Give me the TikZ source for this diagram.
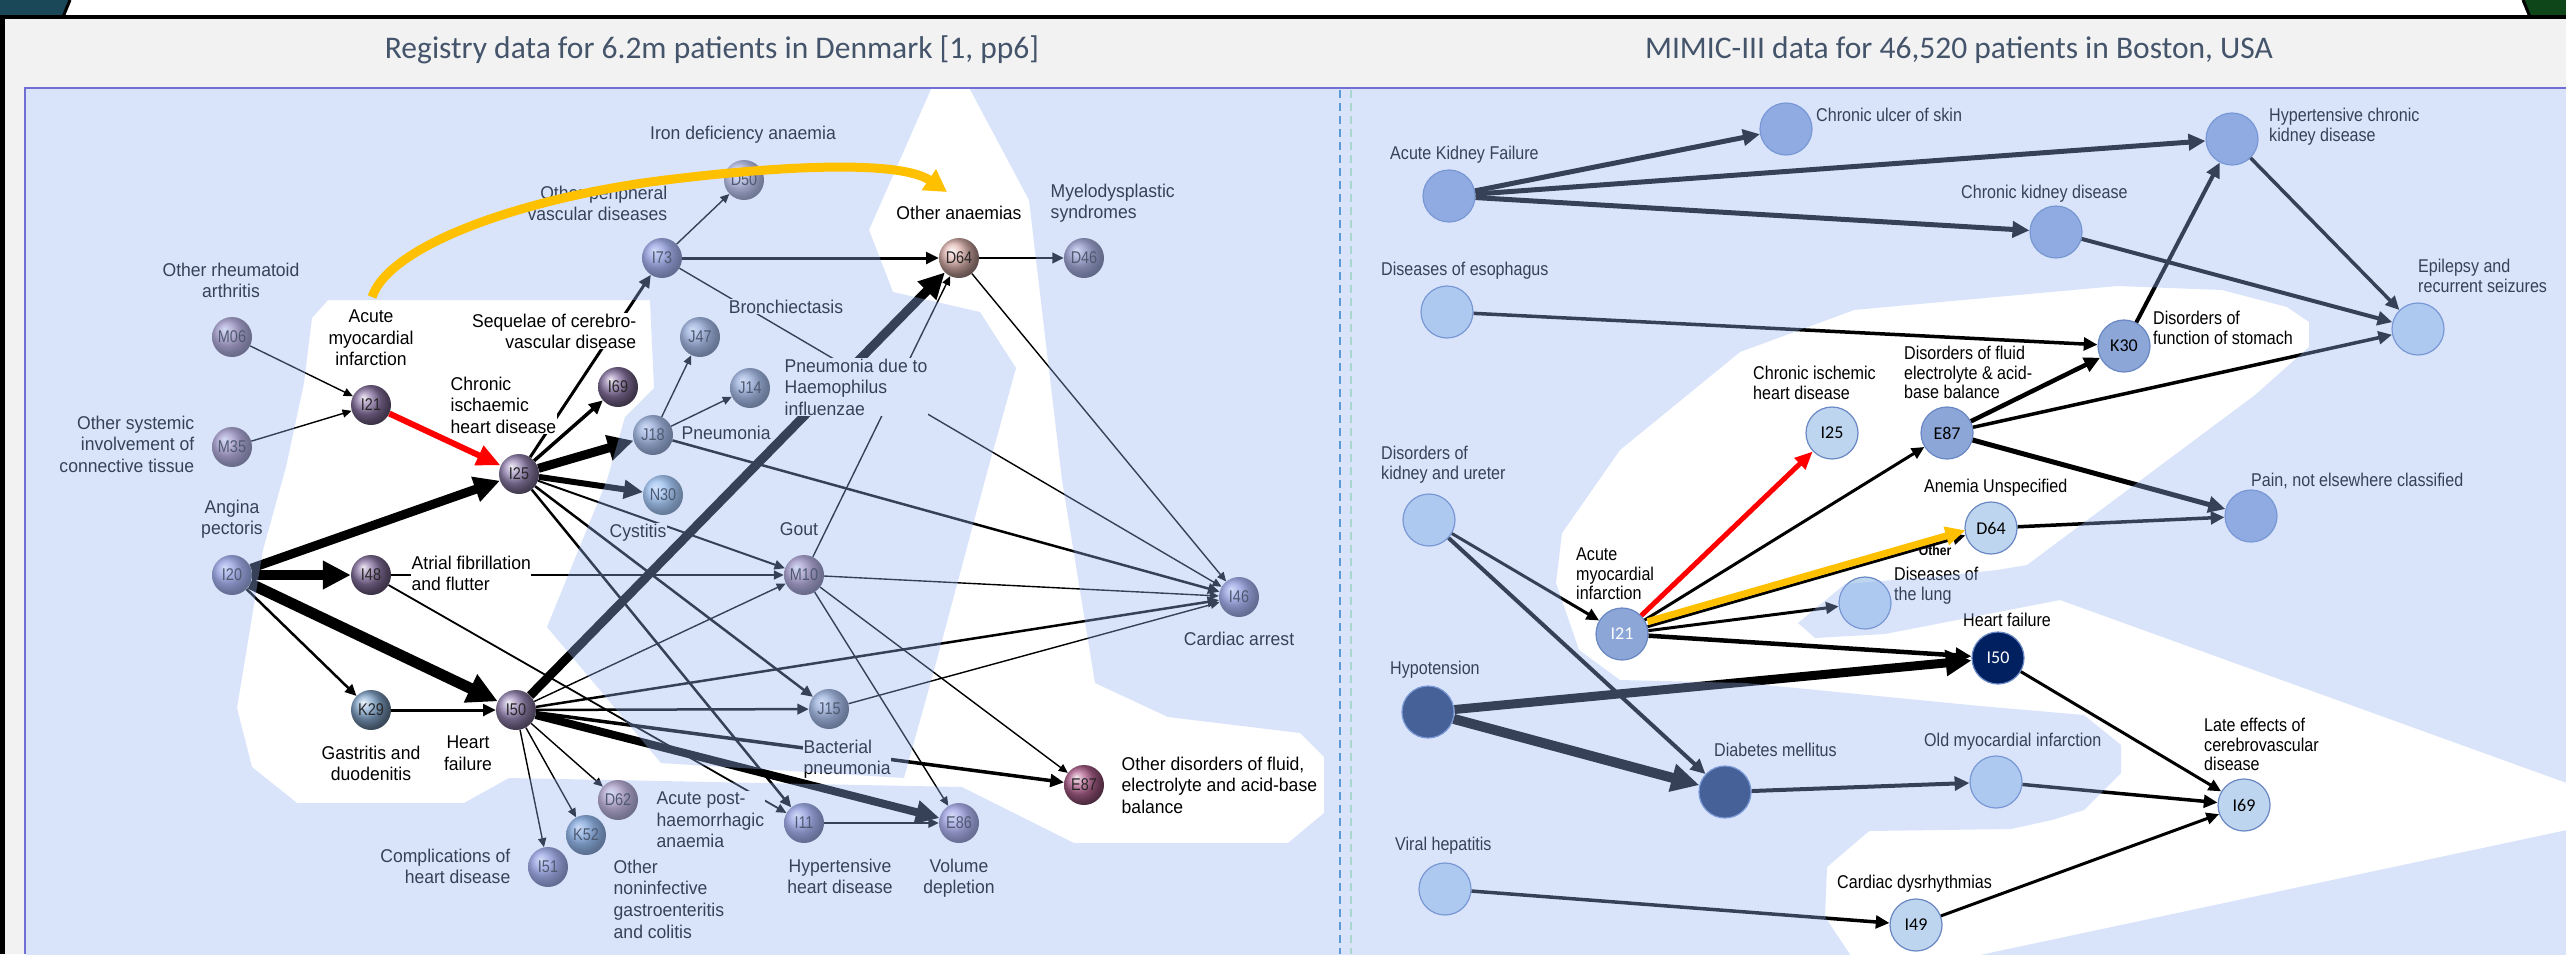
\documentclass[tikz,border=0pt]{standalone}
\usepackage{fontspec}
\setmainfont{Liberation Sans}
\newfontfamily\lpfont[FakeStretch=0.95]{Liberation Sans}
\newfontfamily\rpfont[FakeStretch=0.87]{Liberation Sans}
\newfontfamily\ballfont[FakeStretch=0.85]{Liberation Sans}
\newfontfamily\carfont{Carlito}
\usetikzlibrary{arrows.meta}
\definecolor{ovl}{RGB}{150,182,245}
\definecolor{hdr}{RGB}{242,242,242}
\definecolor{frameblue}{RGB}{112,112,212}
\definecolor{titlec}{RGB}{68,84,106}
\definecolor{tabteal}{RGB}{26,72,88}
\definecolor{tabgreen}{RGB}{14,70,26}
\definecolor{ygold}{RGB}{255,192,0}
\definecolor{nlight}{RGB}{189,213,238}
\definecolor{nmed}{RGB}{140,166,216}
\definecolor{ndark}{RGB}{25,50,100}
\definecolor{nnavy}{RGB}{0,32,96}
\definecolor{nedge}{RGB}{105,135,195}
\definecolor{bpurd}{RGB}{140,118,165}
\definecolor{bpur}{RGB}{155,138,185}
\definecolor{bpurl}{RGB}{165,160,215}
\definecolor{bmauve}{RGB}{188,150,180}
\definecolor{bgrey}{RGB}{168,178,202}
\definecolor{bblue}{RGB}{135,170,208}
\definecolor{blblue}{RGB}{175,210,238}
\definecolor{bpink}{RGB}{228,185,180}
\definecolor{bpinkm}{RGB}{210,165,185}
\definecolor{blil}{RGB}{212,198,218}
\definecolor{bdk}{RGB}{160,145,175}
\definecolor{bmag}{RGB}{180,100,145}
\definecolor{bviol}{RGB}{185,165,220}
\definecolor{dashblue}{RGB}{91,155,213}
\definecolor{dashgreen}{RGB}{170,215,205}
\tikzset{
  lab/.style={font=\lpfont\fontsize{18.5}{21.7}\selectfont, inner sep=0.5pt, fill=white, text=black},
  rlab/.style={font=\rpfont\fontsize{18.5}{19.5}\selectfont, inner sep=0pt, text=black, align=left, anchor=north west},
  ball/.style={circle, minimum size=40pt, inner sep=0pt, ball color=#1, font=\ballfont\fontsize{17}{17}\selectfont, text=black!85},
  rnode/.style={circle, minimum size=52pt, inner sep=0pt, fill=#1, draw=nedge, line width=1.2pt, font=\carfont\fontsize{18}{18}\selectfont},
  ed/.style={line width=#1, -{Triangle[length=6pt 2.2, width=5pt 2.2]}},
  ttl/.style={font=\carfont\fontsize{31.5}{35}\selectfont, text=titlec, anchor=base}
}
\begin{document}
\begin{tikzpicture}[x=1pt,y=-1pt]
\useasboundingbox (0,0) rectangle (2566,954);
% frame and header
\fill[white] (0,0) rectangle (2566,954);
\fill[tabteal] (0,0) -- (70,0) -- (63,17) -- (0,17) -- cycle;
\fill[tabgreen] (2523,0) -- (2566,0) -- (2566,17) -- (2530,17) -- cycle;
\fill[hdr] (4,18) rectangle (2566,954);
\draw[line width=4pt] (0,17) -- (2566,17);
\draw[line width=3pt] (70,0) -- (63,17);
\draw[line width=3pt] (2523,0) -- (2530,17);
\draw[line width=5pt] (2.5,15) -- (2.5,954);
\fill[white] (25,88) rectangle (2566,954);
\node[ttl] (t1) at (712,58) {Registry data for 6.2m patients in Denmark [1, pp6]};
\node[ttl] (t2) at (1959,58) {MIMIC-III data for 46,520 patients in Boston, USA};

% ---------------- left panel nodes
\node[ball=bmauve] (M06) at (232,337) {M06};
\node[ball=bmauve] (M35) at (232,447) {M35};
\node[ball=bpurd] (I21) at (371,405) {I21};
\node[ball=bpurd] (I69) at (618,387) {I69};
\node[ball=bpurl] (I73) at (662,258) {I73};
\node[ball=bgrey] (J18) at (653,435) {J18};
\node[ball=bpur] (I25) at (519,474) {I25};
\node[ball=bgrey] (J47) at (700,337) {J47};
\node[ball=bgrey] (J14) at (750,388) {J14};
\node[ball=blil] (D50) at (744,180) {D50};
\node[ball=bpink] (D64) at (959,258) {D64};
\node[ball=bdk] (D46) at (1084,258) {D46};
\node[ball=bpurl] (I20) at (232,575) {I20};
\node[ball=bpurd] (I48) at (371,575) {I48};
\node[ball=bblue] (K29) at (371,710) {K29};
\node[ball=bpur] (I50) at (516,710) {I50};
\node[ball=blblue] (N30) at (663,495) {N30};
\node[ball=bpinkm] (D62) at (618,800) {D62};
\node[ball=bblue] (K52) at (586,835) {K52};
\node[ball=bpurl] (I51) at (548,867) {I51};
\node[ball=bmauve] (M10) at (804,575) {M10};
\node[ball=bpurl] (I46) at (1239,597) {I46};
\node[ball=bgrey] (J15) at (829,709) {J15};
\node[ball=bmag] (E87) at (1084,785) {E87};
\node[ball=bpurl] (I11) at (804,823) {I11};
\node[ball=bviol] (E86) at (959,823) {E86};

% ---------------- left panel edges
\draw[ed=1.4pt] (M06) -- (I21);
\draw[ed=1.4pt] (M35) -- (I21);
\draw[ed=9pt] (I20) -- (I25);
\draw[ed=10pt] (I20) -- (I48);
\draw[ed=11pt] (I20) -- (I50);
\draw[ed=2.5pt] (I20) -- (K29);
\draw[ed=3pt] (K29) -- (I50);
\draw[ed=3.5pt] (I25) -- (I69);
\draw[ed=3pt] (I25) -- (I73);
\draw[ed=9pt] (I25) -- (J18);
\draw[ed=6pt] (I25) -- (N30);
\draw[ed=2pt] (I25) -- (M10);
\draw[ed=2.5pt] (I25) -- (J15);
\draw[ed=2.5pt] (I25) -- (I11);
\draw[ed=1.8pt] (I48) -- (M10);
\draw[ed=1.8pt] (I48) -- (I11);
\draw[ed=9pt] (I50) -- (D64);
\draw[ed=1.4pt] (I50) -- (M10);
\draw[ed=2.5pt] (I50) -- (I46);
\draw[ed=2.5pt] (I50) -- (J15);
\draw[ed=8pt] (I50) -- (E86);
\draw[ed=3.5pt] (I50) -- (E87);
\draw[ed=1.4pt] (I50) -- (D62);
\draw[ed=1.4pt] (I50) -- (K52);
\draw[ed=1.4pt] (I50) -- (I51);
\draw[ed=1.4pt] (I73) -- (D50);
\draw[ed=3pt] (I73) -- (D64);
\draw[ed=1.4pt] (I73) -- (I46);
\draw[ed=2.5pt] (D64) -- (D46);
\draw[ed=1.4pt] (D64) -- (I46);
\draw[ed=1.4pt] (J18) -- (J47);
\draw[ed=1.4pt] (J18) -- (J14);
\draw[ed=2.5pt] (J18) -- (I46);
\draw[ed=1.4pt] (M10) -- (D64);
\draw[ed=1.4pt] (M10) -- (I46);
\draw[ed=1.4pt] (M10) -- (E87);
\draw[ed=1.4pt] (M10) -- (E86);
\draw[ed=1.4pt] (J15) -- (I46);
\draw[ed=2pt] (I11) -- (E86);
\draw[line width=6pt, red, -{Triangle[length=24pt, width=20pt]}] (I21) -- (I25);

% ---------------- left panel labels
\node[lab, align=center, anchor=north] (Lrheum) at (231,262) {Other rheumatoid\\arthritis};
\node[lab, align=center, anchor=north] (Lami) at (371,309) {Acute\\myocardial\\infarction};
\node[lab, align=right, anchor=north east] (Lseq) at (637,313) {Sequelae of cerebro-\\vascular disease};
\node[lab, align=left, anchor=north west] (Lchd) at (450,376) {Chronic\\ischaemic\\heart disease};
\node[lab, align=right, anchor=north east] (Losys) at (195,415) {Other systemic\\involvement of\\connective tissue};
\node[lab, anchor=north] (Liron) at (743,125) {Iron deficiency anaemia};
\node[lab, align=right, anchor=north east] (Lopvd) at (668,185) {Other peripheral\\vascular diseases};
\node[lab, anchor=north] (Lbron) at (786,299) {Bronchiectasis};
\node[lab, align=left, anchor=north west] (Lpneuh) at (784,358) {Pneumonia due to\\Haemophilus\\influenzae};
\node[lab, anchor=north west] (Lpneu) at (681,425) {Pneumonia};
\node[lab, anchor=north] (Loan) at (959,205) {Other anaemias};
\node[lab, align=left, anchor=north west] (Lmyelo) at (1050,183) {Myelodysplastic\\syndromes};
\node[lab, align=center, anchor=north] (Lang) at (232,499) {Angina\\pectoris};
\node[lab, align=left, anchor=north west] (Lafib) at (411,555) {Atrial fibrillation\\and flutter};
\node[lab, anchor=north] (Lcyst) at (638,523) {Cystitis};
\node[lab, align=center, anchor=north] (Lgast) at (371,745) {Gastritis and\\duodenitis};
\node[lab, align=center, anchor=north] (Lhf) at (468,735) {Heart\\failure};
\node[lab, align=right, anchor=north east] (Lcompl) at (511,848) {Complications of\\heart disease};
\node[lab, align=left, anchor=north west] (Lapha) at (656,791) {Acute post-\\haemorrhagic\\anaemia};
\node[lab, align=left, anchor=north west] (Loninf) at (613,859) {Other\\noninfective\\gastroenteritis\\and colitis};
\node[lab, anchor=north] (Lgout) at (799,522) {Gout};
\node[lab, anchor=north] (Lcarr) at (1239,631) {Cardiac arrest};
\node[lab, align=left, anchor=north west] (Lbact) at (803,739) {Bacterial\\pneumonia};
\node[lab, align=left, anchor=north west] (Loflu) at (1121,756) {Other disorders of fluid,\\electrolyte and acid-base\\balance};
\node[lab, align=center, anchor=north] (Lhhd) at (840,858) {Hypertensive\\heart disease};
\node[lab, align=center, anchor=north] (Lvold) at (959,858) {Volume\\depletion};

% ---------------- right panel nodes
\node[rnode=nmed] (AKF) at (1449,196) {};
\node[rnode=nmed] (CUS) at (1786,129) {};
\node[rnode=nmed] (HCKD) at (2232,139) {};
\node[rnode=nmed] (CKD) at (2056,232) {};
\node[rnode=nlight] (ESO) at (1447,312) {};
\node[rnode=nlight] (EPI) at (2418,329) {};
\node[rnode=nmed] (K30) at (2124,346) {K30};
\node[rnode=nlight] (rI25) at (1832,433) {I25};
\node[rnode=nmed] (rE87) at (1947,433) {E87};
\node[rnode=nlight] (DKU) at (1429,520) {};
\node[rnode=nlight] (rD64) at (1991,528) {D64};
\node[rnode=nmed] (PAIN) at (2251,516) {};
\node[rnode=nlight] (LUNG) at (1865,603) {};
\node[rnode=nmed, text=white] (rI21) at (1622,634) {I21};
\node[rnode=nnavy, text=white] (rI50) at (1998,658) {I50};
\node[rnode=ndark] (HYPO) at (1428,712) {};
\node[rnode=ndark] (DIAB) at (1725,792) {};
\node[rnode=nlight] (OMI) at (1996,782) {};
\node[rnode=nlight] (rI69) at (2244,805) {I69};
\node[rnode=nlight] (VIR) at (1445,889) {};
\node[rnode=nlight] (rI49) at (1916,925) {I49};

% ---------------- right panel edges
\draw[ed=5pt] (AKF) -- (CUS);
\draw[ed=5pt] (AKF) -- (HCKD);
\draw[ed=5pt] (AKF) -- (CKD);
\draw[ed=3.5pt] (ESO) -- (K30);
\draw[ed=4pt] (CKD) -- (EPI);
\draw[ed=3.5pt] (HCKD) -- (EPI);
\draw[ed=4pt] (K30) -- (HCKD);
\draw[ed=4.5pt] (rE87) -- (K30);
\draw[ed=3.5pt] (rE87) -- (EPI);
\draw[ed=5pt] (rE87) -- (PAIN);
\draw[ed=3.5pt] (rD64) -- (PAIN);
\draw[ed=3pt] (DKU) -- (rI21);
\draw[ed=4pt] (DKU) -- (DIAB);
\draw[ed=3pt] (rI21) -- (rE87);
\draw[ed=3pt] (rI21) -- (rD64);
\draw[ed=3pt] (rI21) -- (LUNG);
\draw[ed=4.5pt] (rI21) -- (rI50);
\draw[ed=9pt] (HYPO) -- (rI50);
\draw[ed=10pt] (HYPO) -- (DIAB);
\draw[ed=4pt] (DIAB) -- (OMI);
\draw[ed=3.5pt] (OMI) -- (rI69);
\draw[ed=3pt] (rI50) -- (rI69);
\draw[ed=3pt] (rI49) -- (rI69);
\draw[ed=3.5pt] (VIR) -- (rI49);
\draw[line width=5pt, red, -{Triangle[length=18pt, width=15pt]}] (rI21) -- (rI25);

% ---------------- right panel labels
\node[rlab] (Rakf) at (1390,146) {Acute Kidney Failure};
\node[rlab] (Rcus) at (1816,108) {Chronic ulcer of skin};
\node[rlab] (Rhckd) at (2269,108) {Hypertensive chronic\\kidney disease};
\node[rlab] (Rckd) at (1961,185) {Chronic kidney disease};
\node[rlab] (Reso) at (1381,262) {Diseases of esophagus};
\node[rlab] (Repi) at (2418,259) {Epilepsy and\\recurrent seizures};
\node[rlab] (Rdfs) at (2153,311) {Disorders of\\function of stomach};
\node[rlab] (Rcihd) at (1753,366) {Chronic ischemic\\heart disease};
\node[rlab] (Rdfe) at (1904,346) {Disorders of fluid\\electrolyte \& acid-\\base balance};
\node[rlab] (Rdku) at (1381,446) {Disorders of\\kidney and ureter};
\node[rlab] (Ranu) at (1924,479) {Anemia Unspecified};
\node[rlab] (Rpain) at (2251,473) {Pain, not elsewhere classified};
\node[rlab] (Rami) at (1576,548) {Acute\\myocardial\\infarction};
\node[font=\rpfont\bfseries\fontsize{14}{14}\selectfont, inner sep=0pt] (Roth) at (1935,550) {Other};
\node[rlab] (Rlung) at (1894,567) {Diseases of\\the lung};
\node[rlab] (Rhf) at (1963,613) {Heart failure};
\node[rlab] (Rhypo) at (1390,661) {Hypotension};
\node[rlab] (Rdiab) at (1714,743) {Diabetes mellitus};
\node[rlab] (Romi) at (1924,733) {Old myocardial infarction};
\node[rlab] (Rlate) at (2204,718) {Late effects of\\cerebrovascular\\disease};
\node[rlab] (Rvir) at (1395,837) {Viral hepatitis};
\node[rlab] (Rcdys) at (1837,875) {Cardiac dysrhythmias};

% ---------------- translucent blue overlays (non-highlighted areas)
\begin{scope}
\clip (26,89) rectangle (1340,954);
\fill[ovl, fill opacity=0.36, even odd rule] (0,0) rectangle (1400,1000)
  (328,300) -- (650,300) -- (654,388) -- (625,417) -- (607,480) -- (547,627) -- (661,763) -- (904,778)
  -- (936,663) -- (985,480) -- (1016,368) -- (980,312) -- (893,292) -- (869,230) -- (935,80) -- (965,80)
  -- (1029,200) -- (1062,480) -- (1095,683) -- (1168,717) -- (1300,733) -- (1324,757) -- (1324,813)
  -- (1288,843) -- (1074,843) -- (962,787) -- (509,778) -- (464,803) -- (297,803) -- (252,767)
  -- (237,708) -- (263,550) -- (286,467) -- (304,383) -- (312,318) -- cycle;
\end{scope}
\begin{scope}
\clip (1340,89) rectangle (2566,954);
\fill[ovl, fill opacity=0.36, even odd rule] (1300,0) rectangle (2620,1000)
  (1740,352) -- (1854,310) -- (1930,303) -- (2117,286) -- (2222,290) -- (2287,307) -- (2309,322)
  -- (2309,347) -- (2255,395) -- (2027,565) -- (1997,570) -- (1930,577) -- (1845,584) -- (1798,623)
  -- (1815,638) -- (1885,634) -- (2060,600) -- (2600,795) -- (2600,823) -- (1933,965) -- (1857,965)
  -- (1825,917) -- (1827,867) -- (1869,831) -- (2011,829) -- (2052,820) -- (2084,810) -- (2121,773)
  -- (2121,745) -- (2084,715) -- (1980,706) -- (1745,683) -- (1620,680) -- (1579,650) -- (1556,583)
  -- (1562,533) -- (1620,450) -- cycle;
\end{scope}

% ---------------- highlighted yellow arrows
\coordinate (ys) at (372,297);
\coordinate (ye) at (947,192);
\draw[line width=9pt, ygold, -{Triangle[length=22pt, width=24pt]}] (ys) .. controls (390,245) and (520,200) .. (650,182) .. controls (780,165) and (900,160) .. (ye);
\draw[line width=7pt, ygold, -{Triangle[length=20pt, width=18pt]}, transform canvas={yshift=5pt}] (rI21) -- (rD64);

% ---------------- panel borders and divider
\draw[frameblue, line width=2.5pt] (24,88) -- (2566,88);
\draw[frameblue, line width=2.5pt] (25,88) -- (25,954);
\draw[dashblue, line width=2pt, dash pattern=on 8pt off 5pt] (1340,90) -- (1340,954);
\draw[dashgreen, line width=1.5pt, dash pattern=on 8pt off 5pt] (1351,90) -- (1351,954);
\end{tikzpicture}
\end{document}
